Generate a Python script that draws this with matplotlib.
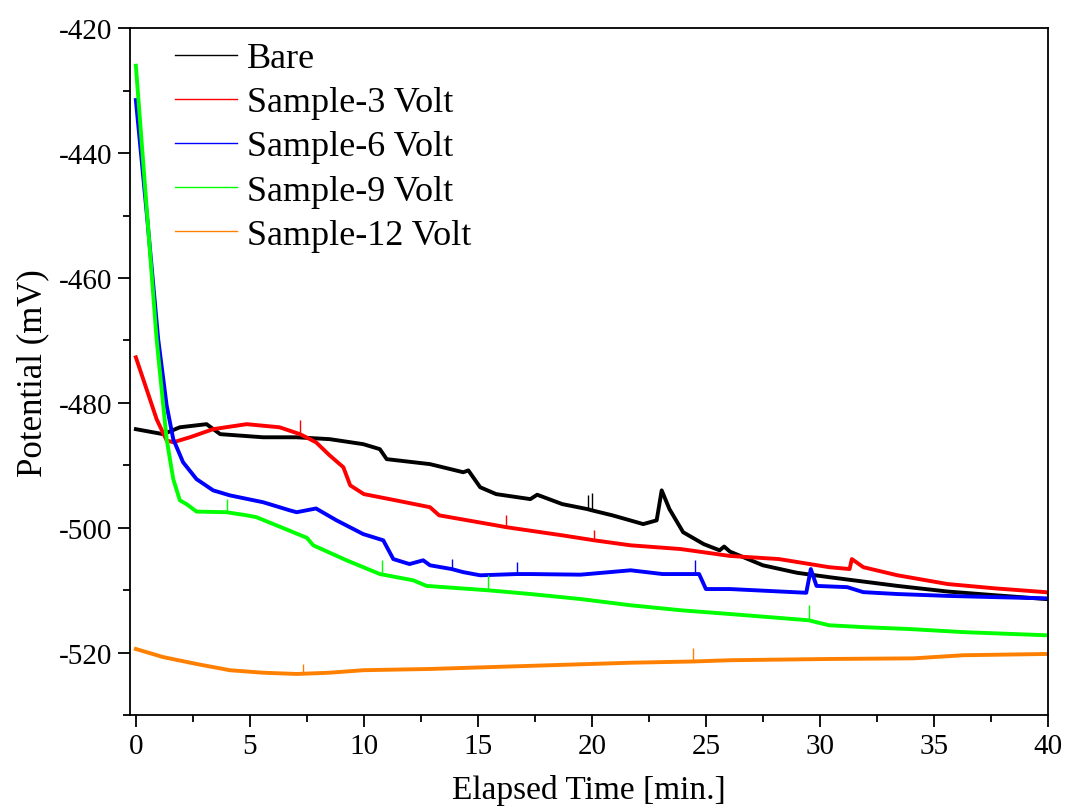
import matplotlib.pyplot as plt
import numpy as np

plt.rcParams['font.family'] = ['Liberation Serif', 'DejaVu Serif']
plt.rcParams['axes.unicode_minus'] = False

# Bare
t_bare = [0, 1.2, 1.93, 3.1, 3.7, 5.58, 7.05, 8.5, 9.97, 10.7, 11.0, 12.9, 14.36,
          14.58, 15.1, 15.8, 17.3, 17.6, 18.7, 19.8, 20.0, 20.9, 22.25, 22.84,
          23.06, 23.4, 24.0, 24.9, 25.6, 25.8, 26.05, 27.5, 29.0, 30.4, 31.9,
          33.4, 35.6, 37.7, 39.9, 40]
v_bare = [-484.2, -485.0, -483.9, -483.4, -485.0, -485.5, -485.5, -485.8, -486.6,
          -487.4, -489.0, -489.8, -491.1, -490.8, -493.5, -494.6, -495.4, -494.7,
          -496.2, -497.0, -497.2, -498.0, -499.4, -498.8, -494.0, -497.0, -500.7,
          -502.6, -503.6, -503.0, -503.8, -506.0, -507.2, -507.9, -508.6, -509.3,
          -510.2, -510.8, -511.4, -511.4]

# Sample-3 Volt
t_s3 = [0.0, 0.47, 0.91, 1.35, 1.64, 2.37, 3.39, 4.86, 6.3, 7.2, 7.9, 8.5, 9.1,
        9.4, 10.0, 11.4, 12.9, 13.3, 15.8, 16.25, 18.7, 20.1, 21.7, 23.9, 26.05,
        28.2, 30.4, 31.3, 31.4, 31.9, 33.4, 35.6, 37.7, 39.9, 40]
v_s3 = [-472.7, -477.8, -482.6, -486.0, -486.3, -485.5, -484.2, -483.4, -483.9,
        -485.0, -486.3, -488.4, -490.3, -493.2, -494.6, -495.6, -496.7, -498.0,
        -499.6, -499.9, -501.2, -502.0, -502.8, -503.4, -504.5, -505.0, -506.3,
        -506.6, -505.0, -506.3, -507.6, -509.0, -509.7, -510.3, -510.4]

# Sample-6 Volt
t_s6 = [0.0, 0.5, 0.98, 1.35, 1.64, 2.07, 2.66, 3.39, 4.12, 5.58, 6.75, 7.05, 7.9,
        8.8, 9.97, 10.85, 11.29, 12.0, 12.6, 12.9, 13.85, 14.36, 15.1, 16.7,
        17.3, 19.5, 21.7, 23.1, 24.7, 25.0, 26.05, 29.4, 29.6, 29.85, 31.2, 31.9,
        33.4, 35.6, 37.7, 40]
v_s6 = [-431.5, -450.5, -469.8, -480.4, -485.8, -489.5, -492.2, -494.0, -494.8,
        -495.9, -497.2, -497.5, -496.9, -498.8, -501.0, -502.0, -505.0, -505.8,
        -505.2, -506.0, -506.6, -507.1, -507.6, -507.4, -507.4, -507.5, -506.8,
        -507.4, -507.4, -509.8, -509.8, -510.4, -506.6, -509.3, -509.5, -510.3,
        -510.6, -510.9, -511.1, -511.3]

# Sample-9 Volt
t_s9 = [0.0, 0.91, 1.35, 1.64, 1.93, 2.22, 2.66, 3.98, 4.86, 5.29, 6.3, 7.5, 7.78,
        9.24, 10.7, 12.16, 12.75, 15.45, 17.3, 19.5, 21.7, 23.9, 26.05, 29.5,
        30.4, 31.9, 33.9, 36.3, 39.9, 40]
v_s9 = [-426.0, -469.8, -485.8, -492.2, -495.6, -496.2, -497.4, -497.5, -498.0,
        -498.3, -499.8, -501.6, -502.8, -505.2, -507.4, -508.4, -509.3, -510.0,
        -510.6, -511.4, -512.4, -513.2, -513.8, -514.8, -515.6, -515.9, -516.2,
        -516.7, -517.2, -517.2]

# Sample-12 Volt
t_s12 = [0.0, 1.2, 2.66, 4.12, 5.58, 7.05, 8.5, 9.97, 11.4, 12.9, 17.3, 21.7, 24.44,
         26.05, 30.4, 34.1, 36.3, 39.9, 40]
v_s12 = [-519.4, -520.7, -521.8, -522.8, -523.2, -523.4, -523.2, -522.8, -522.7,
         -522.6, -522.1, -521.6, -521.4, -521.2, -521.0, -520.9, -520.4, -520.2,
         -520.2]

# narrow spikes: time, spike top (mV)
spk_bare_t = [19.82, 20.02]
spk_bare_v = [-494.8, -494.5]
spk_s3_t = [7.2, 16.25, 20.1]
spk_s3_v = [-482.7, -498.0, -500.4]
spk_s6_t = [13.85, 16.7, 24.5]
spk_s6_v = [-505.0, -505.4, -505.2]
spk_s9_t = [3.98, 10.78, 15.45, 29.5]
spk_s9_v = [-495.4, -505.2, -507.5, -512.3]
spk_s12_t = [7.34, 24.44]
spk_s12_v = [-521.8, -519.3]

series = [
    (t_bare, v_bare, spk_bare_t, spk_bare_v, 'Bare', '#000000'),
    (t_s3, v_s3, spk_s3_t, spk_s3_v, 'Sample-3 Volt', '#ff0000'),
    (t_s6, v_s6, spk_s6_t, spk_s6_v, 'Sample-6 Volt', '#0000ff'),
    (t_s9, v_s9, spk_s9_t, spk_s9_v, 'Sample-9 Volt', '#00ff00'),
    (t_s12, v_s12, spk_s12_t, spk_s12_v, 'Sample-12 Volt', '#ff8000'),
]

fig = plt.figure(figsize=(10.65, 8.12), dpi=100)
ax = fig.add_axes([0.122, 0.118, 0.862, 0.846])

for t, v, st, sv, lab, c in series:
    ax.plot(t, v, color=c, lw=2.8, label=lab)
    base = np.interp(st, t, v)
    ax.vlines(st, base, sv, color=c, lw=1.0)

ax.set_xlim(-0.26, 40)
ax.set_ylim(-530, -420)
ax.set_xticks(np.arange(0, 41, 5))
ax.set_yticks(np.arange(-520, -419, 20))
ax.set_xticks(np.arange(2.5, 40, 5), minor=True)
ax.set_yticks(np.arange(-530, -420, 20), minor=True)
ax.tick_params(which='major', direction='out', length=8.5, width=1.3,
               labelsize=21, pad=4)
ax.tick_params(which='minor', direction='out', length=5, width=1.3)
for s in ax.spines.values():
    s.set_linewidth(1.3)

ax.set_xlabel('Elapsed Time [min.]', fontsize=24, labelpad=11)
ax.set_ylabel('Potential (mV)', fontsize=25, labelpad=7)

leg = ax.legend(loc='upper left', bbox_to_anchor=(0.049, 0.98), frameon=False,
                fontsize=26, handlelength=1.72, handletextpad=0.28,
                labelspacing=0.3, borderpad=0, borderaxespad=0)
for h in leg.get_lines():
    h.set_linewidth(1.0)

fig.savefig('out.png', dpi=100)
